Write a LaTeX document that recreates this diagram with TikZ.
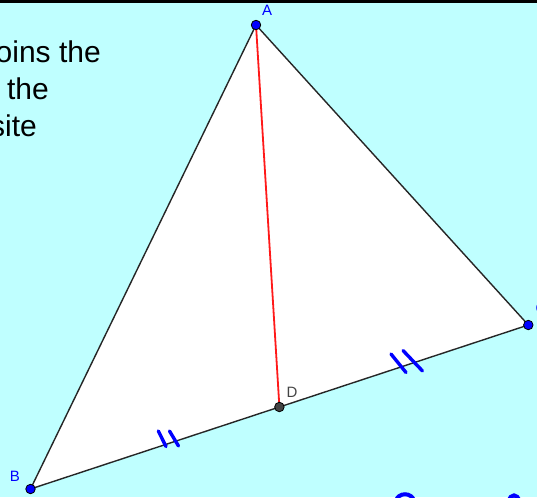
\documentclass[tikz,border=0pt]{standalone}
\usepackage{fontspec}
\setmainfont{Liberation Sans}
\definecolor{bg}{RGB}{191,255,255}
\definecolor{ptblue}{RGB}{0,0,255}
\definecolor{dgray}{RGB}{68,68,68}
\tikzset{
  edge/.style={draw=black!85, line width=1.4pt},
  medianline/.style={draw=red!90!white, line width=1.8pt},
  tick/.style={draw=ptblue, line width=3.4pt, line cap=round},
  pt/.style={circle, fill=ptblue, draw=black, line width=0.8pt, minimum size=9.5pt, inner sep=0pt},
  ptd/.style={circle, fill=dgray, draw=black, line width=0.8pt, minimum size=9.5pt, inner sep=0pt},
  lbl/.style={font=\fontsize{15}{18}\selectfont, inner sep=0pt, text=ptblue},
  bodytext/.style={font=\fontsize{30}{37}\selectfont, inner sep=0pt, anchor=base east, text=black}
}
\begin{document}
\begin{tikzpicture}[x=1pt,y=-1pt]
\useasboundingbox (0,0) rectangle (537,497);
\clip (0,0) rectangle (537,497);
\fill[bg] (0,0) rectangle (537,497);
\fill[black] (0,0) rectangle (537,3);

\coordinate (A) at (256,25);
\coordinate (B) at (30.5,489);
\coordinate (C) at (528.3,325);
\coordinate (D) at (279.4,407);

\fill[white] (A) -- (B) -- (C) -- cycle;
\draw[edge] (A) -- (B);
\draw[edge] (A) -- (C);
\draw[edge] (B) -- (C);
\draw[medianline] (A) -- (D);

% equal-length ticks
\draw[tick] (158.3,431) -- (166,446.5);
\draw[tick] (169.5,431) -- (178.5,446);
\draw[tick] (391,354) -- (406,372.5);
\draw[tick] (403,350.5) -- (422.5,371);

\node[pt] (pA) at (A) {};
\node[pt] (pB) at (B) {};
\node[pt] (pC) at (C) {};
\node[ptd] (pD) at (D) {};

\node[lbl] (lA) at (267,10) {A};
\node[lbl] (lB) at (15,476) {B};
\node[lbl] (lC) at (541,308) {C};
\node[lbl, text=dgray] (lD) at (292,392) {D};

\node[bodytext] (t1) at (101,63) {oins the};
\node[bodytext] (t2) at (49,100) {the};
\node[bodytext] (t3) at (37,137) {site};

% partial shapes at bottom edge
\draw[ptblue, line width=4pt] (396,501) .. controls (398,492) and (412,492) .. (414,501);
\draw[ptblue, line width=4pt] (509,501) .. controls (510,493.5) and (518,493.5) .. (519,501);
\end{tikzpicture}
\end{document}
